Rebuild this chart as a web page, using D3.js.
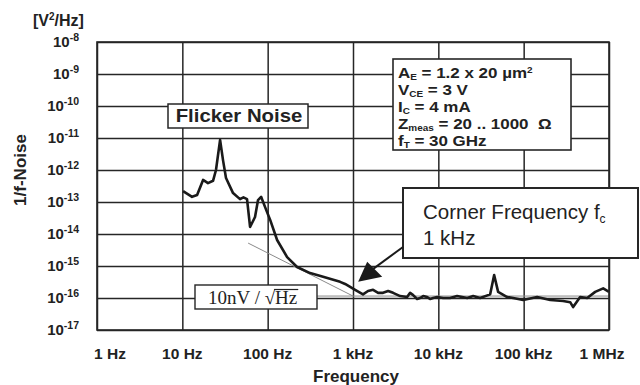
<!DOCTYPE html>
<html>
<head>
<meta charset="utf-8">
<script src="https://cdn.jsdelivr.net/npm/d3@7"></script>
<style>
  body { margin: 0; background: #fff; }
  svg { display: block; }
  text { font-family: "Liberation Sans", Arial, sans-serif; fill: #222; }
</style>
</head>
<body>
<svg id="chart" width="640" height="385"></svg>
<script>
// Measured 1/f noise spectrum of the transistor
const freqHz = [
  10.2, 13, 14.9, 17.5, 20, 22.9, 24.8, 27.7, 30, 32.5, 39.3, 47.4, 52, 57.3,
  62.2, 71.1, 77.1, 83.8, 93.3, 107, 129, 169, 221, 314, 446, 706, 808,
  1060, 1310, 1500, 1720, 1970, 2250, 2580, 2950, 3570, 4310, 4670, 5070,
  5640, 6120, 6640, 7400, 8010, 8690, 9680, 11400, 13700, 16600, 19000,
  21800, 25600, 30900, 40500, 45100, 50200, 64100, 75300, 98600, 144000,
  205000, 290000, 351000, 380000, 459000, 555000, 689000, 855000, 1000000
];
const noisePSD = [
  2.2e-13, 1.45e-13, 1.65e-13, 4.9e-13, 3.9e-13, 4.6e-13, 1.0e-12, 8.7e-12,
  2.0e-12, 5.6e-13, 1.9e-13, 1.23e-13, 1.4e-13, 1.23e-13,
  1.66e-14, 3.4e-14, 1.15e-13, 1.45e-13, 6.9e-14, 2.75e-14, 6.5e-15, 1.9e-15,
  9.3e-16, 6.0e-16, 4.6e-16, 3.2e-16, 2.75e-16,
  1.8e-16, 1.3e-16, 1.66e-16, 1.8e-16, 1.45e-16, 1.45e-16, 1.66e-16, 1.45e-16,
  1.15e-16, 1.07e-16, 1.45e-16, 1.23e-16,
  9.3e-17, 1.0e-16, 1.15e-16, 1.07e-16, 9.3e-17, 1.0e-16, 1.07e-16, 1.0e-16,
  1.0e-16, 1.15e-16, 1.07e-16,
  1.0e-16, 1.15e-16, 1.0e-16, 1.3e-16, 5.2e-16, 1.55e-16, 1.07e-16, 1.0e-16,
  8.7e-17, 1.07e-16,
  8.7e-17, 8.1e-17, 7.4e-17, 5.2e-17, 1.07e-16, 1.0e-16, 1.55e-16, 2.0e-16, 1.55e-16
];

// 1/f asymptote and white-noise floor (10 nV/sqrt(Hz))
const slopeFreq = [59, 1000];
const slopeValue = [5.2e-15, 1.15e-16];
const floorFreq = [150, 1000000];
const floorValue = [1.15e-16, 1.15e-16];

const xTicks = [1, 10, 100, 1e3, 1e4, 1e5, 1e6];
const xTickLabels = ["1 Hz", "10 Hz", "100 Hz", "1 kHz", "10 kHz", "100 kHz", "1 MHz"];
const yExponents = [-8, -9, -10, -11, -12, -13, -14, -15, -16, -17];

const cornerFreq = 1150;
const cornerValue = 3.2e-16;

const svg = d3.select("#chart");
const plotLeft = 97, plotRight = 609, plotTop = 42, plotBottom = 330;

const x = d3.scaleLog().domain([1, 1e6]).range([plotLeft, plotRight]);
const y = d3.scaleLog().domain([1e-17, 1e-8]).range([plotBottom, plotTop]);

const ink = "#262626";

// Grid
svg.append("g")
  .attr("transform", `translate(0,${plotBottom})`)
  .call(d3.axisBottom(x).tickValues(xTicks).tickSize(-(plotBottom - plotTop)).tickFormat(""))
  .call(g => g.select(".domain").remove())
  .call(g => g.selectAll("line").attr("stroke", ink).attr("stroke-width", 1.5));

svg.append("g")
  .attr("transform", `translate(${plotLeft},0)`)
  .call(d3.axisLeft(y).tickValues(yExponents.map(e => Math.pow(10, e))).tickSize(-(plotRight - plotLeft)).tickFormat(""))
  .call(g => g.select(".domain").remove())
  .call(g => g.selectAll("line").attr("stroke", ink).attr("stroke-width", 1.5));

// Y tick labels with superscript exponents
const yLab = svg.append("g");
yExponents.forEach(e => {
  const t = yLab.append("text")
    .attr("x", 79).attr("y", y(Math.pow(10, e)) + 5)
    .attr("text-anchor", "end")
    .attr("font-weight", "bold").attr("font-size", 15);
  t.append("tspan").text("10");
  t.append("tspan").attr("dy", -6).attr("font-size", 10.5).text(String(e));
});

// X tick labels
const xLab = svg.append("g");
xTicks.forEach((d, i) => {
  let dx = 0;
  if (i === 0) dx = 13;
  if (i === xTicks.length - 1) dx = -7;
  xLab.append("text")
    .attr("x", x(d) + dx).attr("y", 359)
    .attr("text-anchor", "middle")
    .attr("font-weight", "bold").attr("font-size", 15.5)
    .text(xTickLabels[i]);
});

// Axis titles
svg.append("text").attr("x", 356).attr("y", 382).attr("text-anchor", "middle")
  .attr("font-weight", "bold").attr("font-size", 17).text("Frequency");
svg.append("text").attr("transform", "translate(26,170) rotate(-90)")
  .attr("text-anchor", "middle").attr("font-weight", "bold").attr("font-size", 17)
  .text("1/f-Noise");
const unit = svg.append("text").attr("x", 33).attr("y", 26)
  .attr("font-weight", "bold").attr("font-size", 16);
unit.append("tspan").text("[V");
unit.append("tspan").attr("dy", -6).attr("font-size", 10).text("2");
unit.append("tspan").attr("dy", 6).text("/Hz]");

// Reference lines
const refLine = d3.line().x(d => x(d[0])).y(d => y(d[1]));
svg.append("path")
  .attr("d", refLine(slopeFreq.map((f, i) => [f, slopeValue[i]])))
  .attr("fill", "none").attr("stroke", "#8a8a8a").attr("stroke-width", 1);
svg.append("path")
  .attr("d", refLine(floorFreq.map((f, i) => [f, floorValue[i]])))
  .attr("fill", "none").attr("stroke", "#8a8a8a").attr("stroke-width", 1);

// Measured curve
const curve = d3.line().x(d => x(d[0])).y(d => y(d[1]));
svg.append("path")
  .attr("d", curve(freqHz.map((f, i) => [f, noisePSD[i]])))
  .attr("fill", "none").attr("stroke", "#1a1a1a").attr("stroke-width", 2.6)
  .attr("stroke-linejoin", "round");

// Plot frame
svg.append("rect").attr("x", plotLeft).attr("y", plotTop)
  .attr("width", plotRight - plotLeft).attr("height", plotBottom - plotTop)
  .attr("fill", "none").attr("stroke", ink).attr("stroke-width", 1.6);

// Flicker noise label
svg.append("rect").attr("x", 168).attr("y", 104).attr("width", 140).attr("height", 24)
  .attr("fill", "#fff").attr("stroke", ink).attr("stroke-width", 1.5);
svg.append("g").attr("transform", "translate(239,122) scale(1.1,1)")
  .append("text").attr("text-anchor", "middle")
  .attr("font-weight", "bold").attr("font-size", 18.5).text("Flicker Noise");

// Device parameters
svg.append("rect").attr("x", 393).attr("y", 59).attr("width", 178).attr("height", 91)
  .attr("fill", "#fff").attr("stroke", ink).attr("stroke-width", 1.6);
const params = [
  [["A", ""], ["E", "sub"], [" = 1.2 x 20 µm", ""], ["2", "sup"]],
  [["V", ""], ["CE", "sub"], [" = 3 V", ""]],
  [["I", ""], ["C", "sub"], [" = 4 mA", ""]],
  [["Z", ""], ["meas", "sub"], [" = 20 .. 1000  Ω", ""]],
  [["f", ""], ["T", "sub"], [" = 30 GHz", ""]]
];
const paramY = [78, 95, 112, 129, 146];
const paramBlock = svg.append("g").attr("transform", "translate(398,0) scale(1.17,1)");
params.forEach((parts, i) => {
  const t = paramBlock.append("text").attr("x", 0).attr("y", paramY[i])
    .attr("font-weight", "bold").attr("font-size", 14.5).attr("xml:space", "preserve");
  let shift = 0;
  parts.forEach(([s, kind]) => {
    const target = kind === "sub" ? 2.5 : kind === "sup" ? -5 : 0;
    t.append("tspan").attr("dy", target - shift)
      .attr("font-size", kind ? 8.5 : 14.5).text(s);
    shift = target;
  });
});

// 10 nV/sqrt(Hz) label
svg.append("rect").attr("x", 195).attr("y", 285).attr("width", 122).attr("height", 24)
  .attr("fill", "#fff").attr("stroke", ink).attr("stroke-width", 1.4);
const nv = svg.append("text").attr("x", 208).attr("y", 304)
  .style("font-family", "'Liberation Serif', 'Times New Roman', serif")
  .attr("font-size", 19).attr("xml:space", "preserve");
nv.append("tspan").text("10nV / √");
nv.append("tspan").text("Hz");
{
  const node = nv.node();
  const n = node.getNumberOfChars();
  const start = node.getStartPositionOfChar(n - 2).x;
  const end = node.getEndPositionOfChar(n - 1).x;
  svg.append("line").attr("x1", start - 1).attr("x2", end + 1)
    .attr("y1", 289.5).attr("y2", 289.5).attr("stroke", "#222").attr("stroke-width", 1.2);
}

// Corner frequency callout
svg.append("rect").attr("x", 403).attr("y", 188).attr("width", 235).attr("height", 70)
  .attr("fill", "#fff").attr("stroke", ink).attr("stroke-width", 2);
const cf = svg.append("text").attr("x", 423).attr("y", 219).attr("font-size", 20.5);
cf.append("tspan").text("Corner Frequency f");
cf.append("tspan").attr("dy", 4).attr("font-size", 12).text("c");
svg.append("text").attr("x", 423).attr("y", 245).attr("font-size", 20.5).text("1 kHz");

const tipX = x(cornerFreq), tipY = y(cornerValue);
svg.append("line").attr("x1", 403).attr("y1", 247).attr("x2", tipX + 15).attr("y2", tipY - 13)
  .attr("stroke", "#1a1a1a").attr("stroke-width", 2);
svg.append("path")
  .attr("d", `M${tipX},${tipY} L${tipX + 9},${tipY - 20} L${tipX + 24},${tipY - 5} Z`)
  .attr("fill", "#1a1a1a");
</script>
</body>
</html>
